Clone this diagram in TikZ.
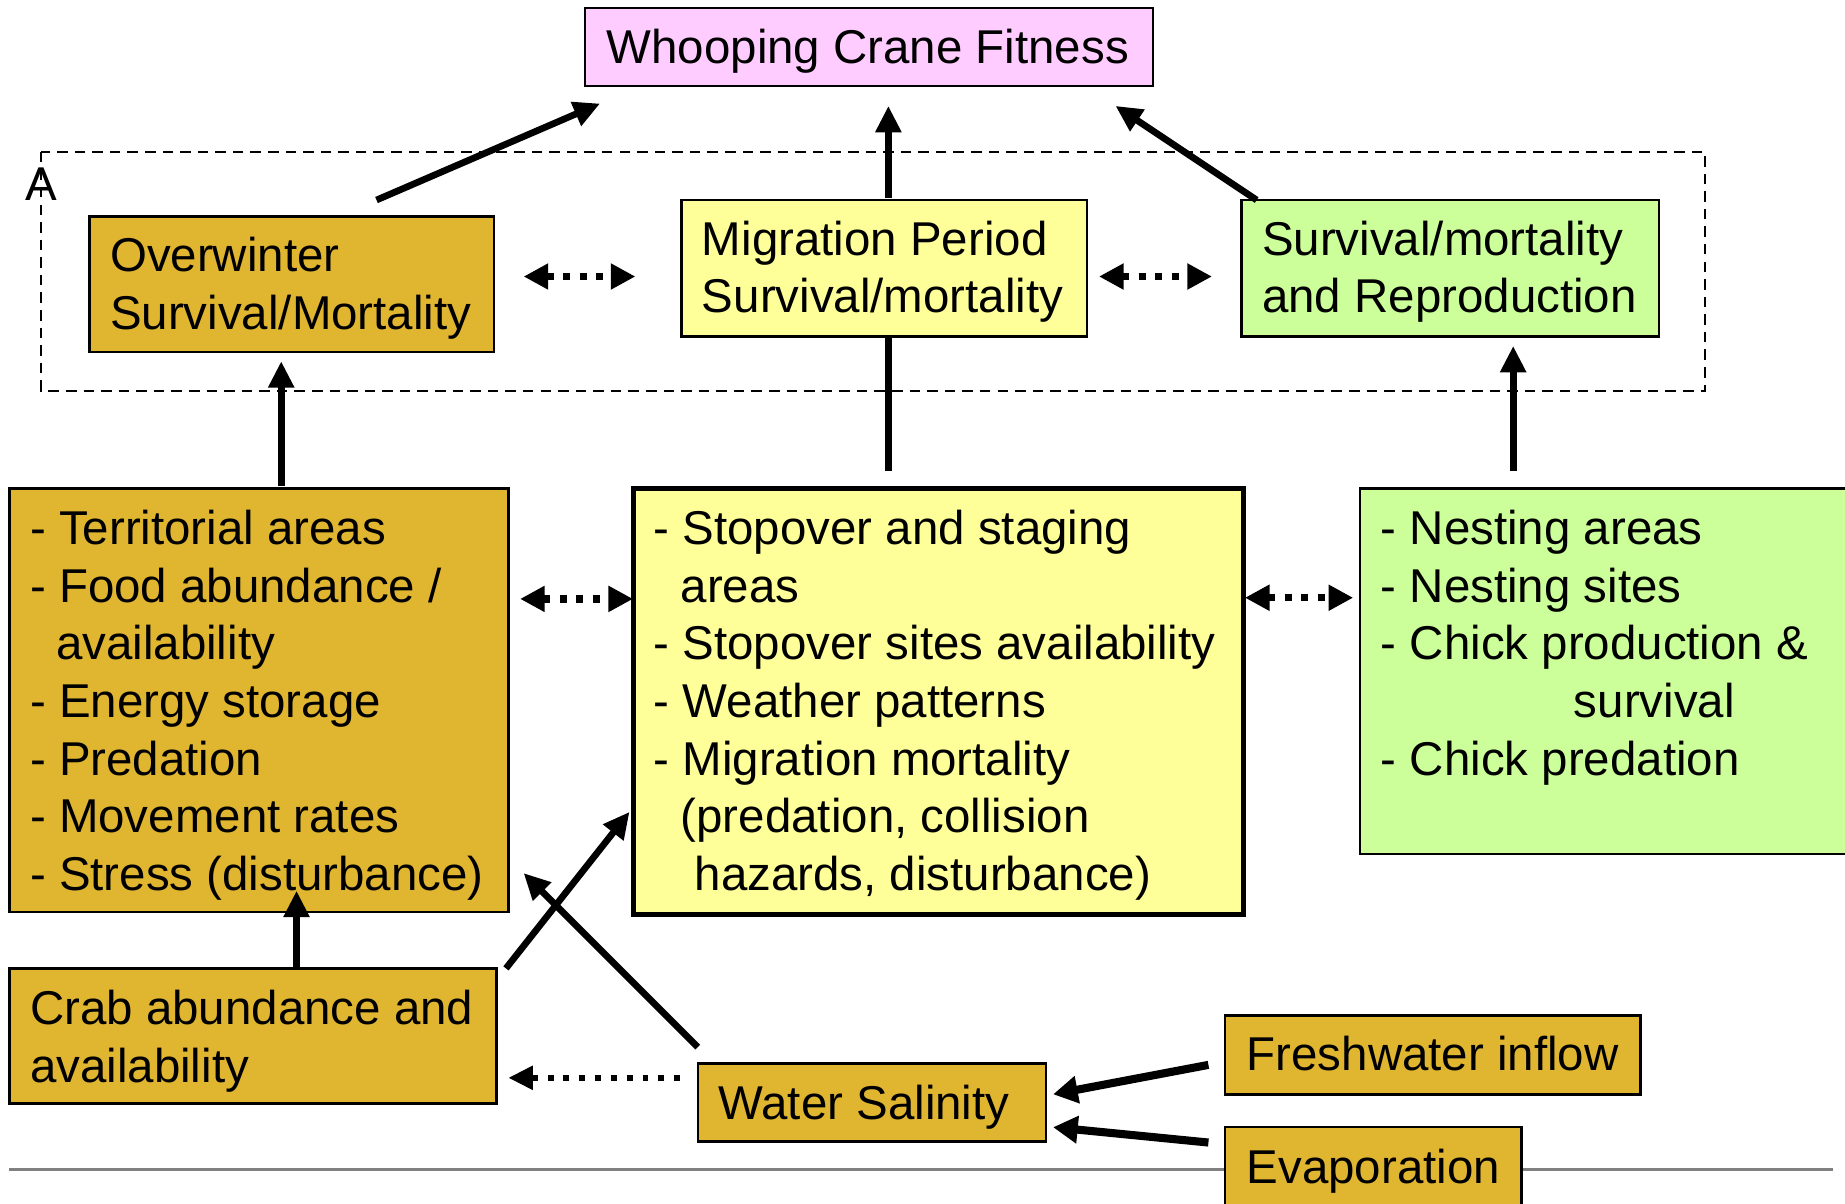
\documentclass[tikz,border=0pt]{standalone}
\usepackage{fontspec}
\setmainfont{Liberation Sans}
\usetikzlibrary{arrows.meta,fit}
\definecolor{gold}{HTML}{E0B530}
\definecolor{lyellow}{HTML}{FFFF99}
\definecolor{lgreen}{HTML}{CCFF99}
\definecolor{lpink}{HTML}{FFCCFF}
\newcommand\fs{\fontsize{13.5pt}{16.4pt}\selectfont}
\begin{document}
\begin{tikzpicture}[x=0.011767cm,y=-0.011767cm,
  bx/.style={draw=black, line width=0.7pt, inner sep=0pt},
  goldbox/.style={bx, fill=gold},
  yelbox/.style={bx, fill=lyellow},
  grnbox/.style={bx, fill=lgreen},
  lbl/.style={anchor=base west, inner sep=0pt, font=\fs},
  lst/.style={anchor=north west, inner sep=0pt, align=left, font=\fs},
  arr/.style={line width=1.9pt, -{Triangle[length=7.5pt,width=7pt]}},
  thickarr/.style={line width=2.3pt, -{Triangle[length=7pt,width=7.5pt]}},
  dotarr/.style={line width=2.1pt, dash pattern=on 2pt off 2.7pt,
     {Triangle[length=7pt,width=7pt]}-{Triangle[length=7pt,width=7pt]}},
  dotone/.style={line width=1.7pt, dash pattern=on 1.7pt off 2.8pt,
     -{Triangle[length=7pt,width=6.5pt]}}
]
\useasboundingbox (0,0) rectangle (1568,1023);
\fill[white] (0,0) rectangle (1568,1023);

% bottom gray rule
\draw[gray, line width=0.8pt] (8,994) coordinate (ruleL) -- (1558,994) coordinate (ruleR);

% dashed group frame
\draw[line width=0.5pt, dash pattern=on 3pt off 2pt] (35,129) rectangle (1449,332);
\node[anchor=base, inner sep=0pt, font=\fs] (lblA) at (35,170) {A};

% title
\node[bx, fill=lpink, line width=0.6pt, fit={(497,7)(980,73)}] (title) {};
\node[lbl] (titletxt) at (515,54) {Whooping Crane Fitness};

% top row
\node[goldbox, fit={(76,184)(420,299)}] (ow) {};
\node[lst] (owtxt) at (93,196) {\strut Overwinter\\Survival/Mortality};
\node[yelbox, fit={(579,170)(924,286)}] (mig) {};
\node[lst] (migtxt) at (596,182) {\strut Migration Period\\Survival/mortality};
\node[grnbox, fit={(1055,170)(1410,286)}] (rep) {};
\node[lst] (reptxt) at (1072,182) {\strut Survival/mortality\\and Reproduction};

% list row
\node[goldbox, fit={(8,415)(432,775)}] (ll) {};
\node[lst] (lltxt) at (25,428) {\strut - Territorial areas\\- Food abundance /\\\hspace{0.26cm}availability\\- Energy storage\\- Predation\\- Movement rates\\- Stress (disturbance)};
\node[yelbox, line width=1.4pt, fit={(538,415)(1057,777)}] (ml) {};
\node[lst] (mltxt) at (555,428) {\strut - Stopover and staging\\\hspace{0.27cm}areas\\- Stopover sites availability\\- Weather patterns\\- Migration mortality\\\hspace{0.27cm}(predation, collision\\\hspace{0.41cm}hazards, disturbance)};
\node[grnbox, fit={(1156,415)(1590,726)}] (rl) {};
\node[lst] (rltxt) at (1173,428) {\strut - Nesting areas\\- Nesting sites\\- Chick production \&\\\hspace{1.93cm}survival\\- Chick predation};

% bottom row
\node[goldbox, fit={(8,823)(422,938)}] (crab) {};
\node[lst] (crabtxt) at (25,836) {\strut Crab abundance and\\availability};
\node[goldbox, fit={(593,904)(889,970)}] (sal) {};
\node[lbl] (saltxt) at (610,951) {Water Salinity};
\node[goldbox, fit={(1041,863)(1394,930)}] (fw) {};
\node[lbl] (fwtxt) at (1059,910) {Freshwater inflow};
\node[goldbox, fit={(1041,958)(1293,1040)}] (evap) {};
\node[lbl] (evaptxt) at (1059,1006) {Evaporation};

% connector end points
\coordinate (a1s) at (320,170); \coordinate (a1e) at (510,88);
\coordinate (a2s) at (755,168); \coordinate (a2e) at (755,90);
\coordinate (a3s) at (1068,170); \coordinate (a3e) at (948,90);
\coordinate (d1s) at (445,235); \coordinate (d1e) at (540,235);
\coordinate (d2s) at (934,235); \coordinate (d2e) at (1030,235);
\coordinate (a5s) at (239,413); \coordinate (a5e) at (239,307);
\coordinate (l6s) at (755,286); \coordinate (l6e) at (755,400);
\coordinate (a7s) at (1286,400); \coordinate (a7e) at (1286,294);
\coordinate (d3s) at (442,509); \coordinate (d3e) at (538,509);
\coordinate (d4s) at (1058,508); \coordinate (d4e) at (1150,508);
\coordinate (a9s) at (252,823); \coordinate (a9e) at (252,757);
\coordinate (a10s) at (430,823); \coordinate (a10e) at (535,690);
\coordinate (a11s) at (593,890); \coordinate (a11e) at (445,742);
\coordinate (d5s) at (578,916); \coordinate (d5e) at (432,916);
\coordinate (a13s) at (1027,905); \coordinate (a13e) at (895,930);
\coordinate (a14s) at (1027,971); \coordinate (a14e) at (895,958);

% connectors
\draw[arr] (a1s) -- (a1e);
\draw[arr] (a2s) -- (a2e);
\draw[arr] (a3s) -- (a3e);
\draw[dotarr] (d1s) -- (d1e);
\draw[dotarr] (d2s) -- (d2e);
\draw[arr] (a5s) -- (a5e);
\draw[line width=1.9pt] (l6s) -- (l6e);
\draw[arr] (a7s) -- (a7e);
\draw[dotarr] (d3s) -- (d3e);
\draw[dotarr] (d4s) -- (d4e);
\draw[arr] (a9s) -- (a9e);
\draw[arr] (a10s) -- (a10e);
\draw[arr] (a11s) -- (a11e);
\draw[dotone] (d5s) -- (d5e);
\draw[thickarr] (a13s) -- (a13e);
\draw[thickarr] (a14s) -- (a14e);
\end{tikzpicture}
\end{document}
